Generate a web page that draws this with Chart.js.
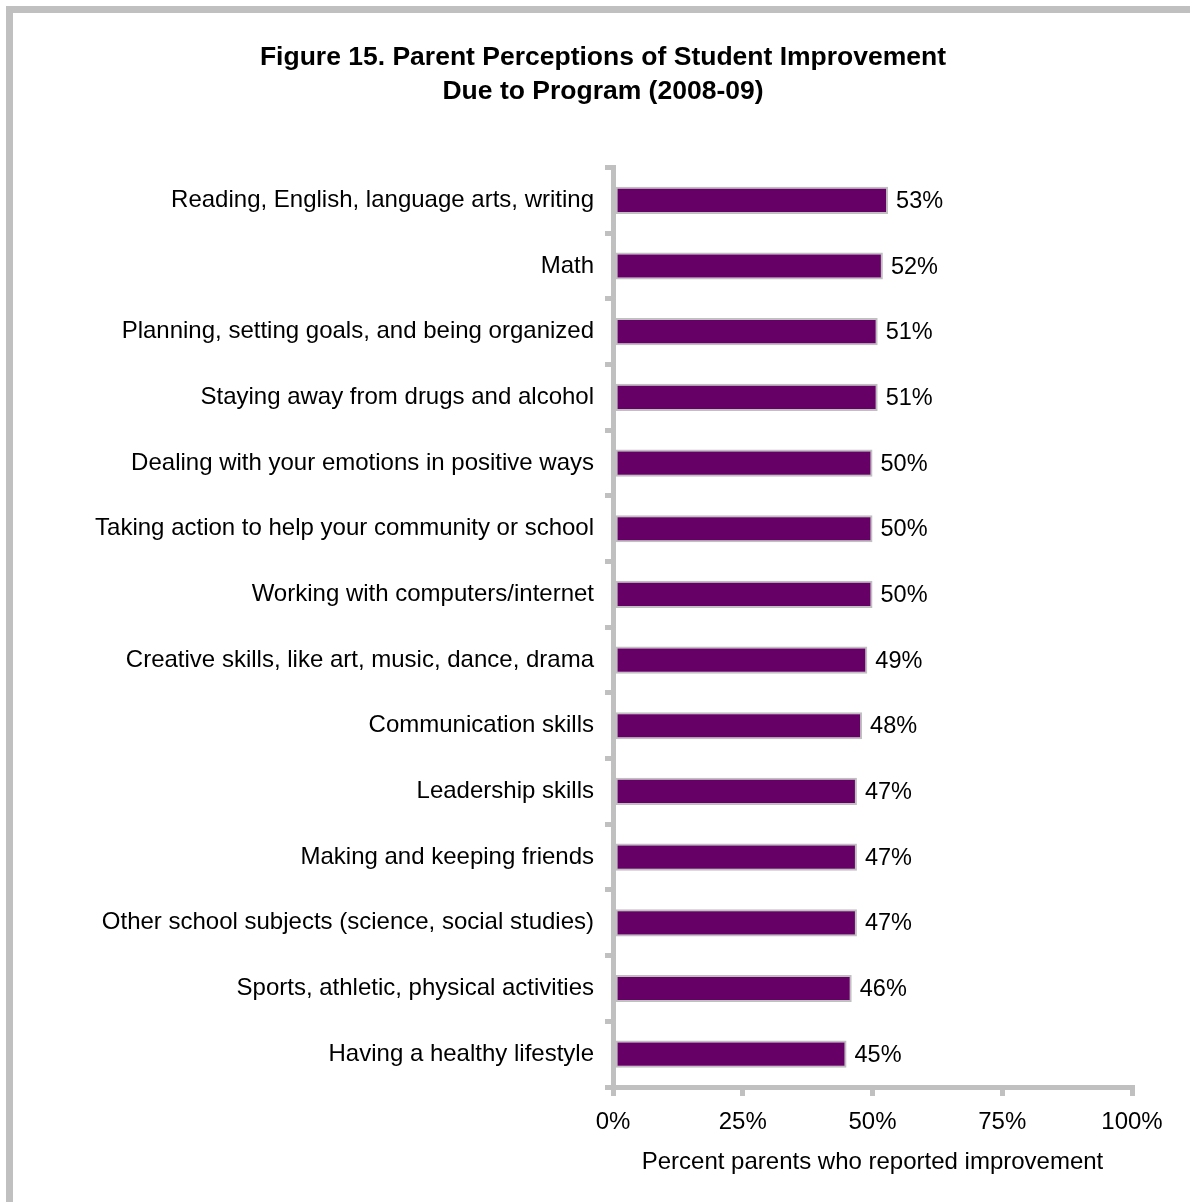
<!DOCTYPE html>
<html>
<head>
<meta charset="utf-8">
<script src="https://cdn.jsdelivr.net/npm/chart.js@4/dist/chart.umd.min.js"></script>
<style>
  html, body { margin:0; padding:0; background:#fff; overflow:hidden; }
  #wrap { position:relative; width:1190px; height:1202px; }
  #frame { position:absolute; left:6px; top:6px; width:1200px; height:1220px; border:7px solid #c0c0c0; box-sizing:border-box; }
  canvas { position:absolute; left:0; top:0; }
</style>
</head>
<body>
<div id="wrap">
  <div id="frame"></div>
  <canvas id="c" width="1190" height="1202"></canvas>
</div>
<script>
const categories = [
  "Reading, English, language arts, writing",
  "Math",
  "Planning, setting goals, and being organized",
  "Staying away from drugs and alcohol",
  "Dealing with your emotions in positive ways",
  "Taking action to help your community or school",
  "Working with computers/internet",
  "Creative skills, like art, music, dance, drama",
  "Communication skills",
  "Leadership skills",
  "Making and keeping friends",
  "Other school subjects (science, social studies)",
  "Sports, athletic, physical activities",
  "Having a healthy lifestyle"
];
const percentImproved = [53, 52, 51, 51, 50, 50, 50, 49, 48, 47, 47, 47, 46, 45];
const xTickValues = [0, 25, 50, 75, 100];
const titleLines = ["Figure 15. Parent Perceptions of Student Improvement", "Due to Program (2008-09)"];
const xAxisTitle = "Percent parents who reported improvement";

const FONT = "'Liberation Sans', Arial, sans-serif";
const GRAY = "#c0c0c0";

const dataLabels = {
  id: 'dataLabels',
  afterDatasetsDraw(chart) {
    const ctx = chart.ctx;
    const meta = chart.getDatasetMeta(0);
    ctx.save();
    ctx.font = "23.5px " + FONT;
    ctx.fillStyle = "#000";
    ctx.textAlign = "left";
    ctx.textBaseline = "middle";
    meta.data.forEach((bar, i) => {
      ctx.fillText(percentImproved[i] + "%", bar.x + 8, bar.y + 1);
    });
    ctx.restore();
  }
};

new Chart(document.getElementById('c'), {
  type: 'bar',
  data: {
    labels: categories,
    datasets: [{
      data: percentImproved,
      backgroundColor: "#660066",
      borderColor: GRAY,
      borderWidth: 2,
      borderSkipped: false,
      categoryPercentage: 0.9,
      barPercentage: 0.46
    }]
  },
  options: {
    indexAxis: 'y',
    responsive: false,
    animation: false,
    layout: { padding: { left: 74, right: 58, top: 0, bottom: 0 } },
    plugins: {
      legend: { display: false },
      tooltip: { enabled: false },
      title: {
        display: true,
        text: titleLines,
        color: "#000",
        font: { family: FONT, size: 26.5, weight: 'bold', lineHeight: 34/26.5 },
        padding: { top: 40.5, bottom: 59 }
      }
    },
    scales: {
      x: {
        type: 'linear',
        min: 0, max: 100,
        afterBuildTicks(scale) { scale.ticks = xTickValues.map(v => ({ value: v })); },
        afterFit(scale) { scale.paddingLeft = 0; scale.paddingRight = 0; scale.height = 115; },
        ticks: {
          color: "#000",
          font: { family: FONT, size: 24 },
          padding: 12,
          callback: v => v + "%"
        },
        grid: { drawOnChartArea: false, color: GRAY, lineWidth: 5, tickLength: 9 },
        border: { display: true, color: GRAY, width: 5 },
        title: {
          display: true,
          text: xAxisTitle,
          color: "#000",
          font: { family: FONT, size: 24 },
          padding: { top: 0, bottom: 25 }
        }
      },
      y: {
        afterFit(scale) { scale.width = 613 - 74; scale.paddingTop = 0; scale.paddingBottom = 0; },
        ticks: {
          color: "#000",
          font: { family: FONT, size: 24 },
          padding: 11
        },
        grid: { drawOnChartArea: false, color: GRAY, lineWidth: 5, tickLength: 8, offset: true },
        border: { display: true, color: GRAY, width: 5 }
      }
    }
  },
  plugins: [dataLabels]
});
</script>
</body>
</html>
